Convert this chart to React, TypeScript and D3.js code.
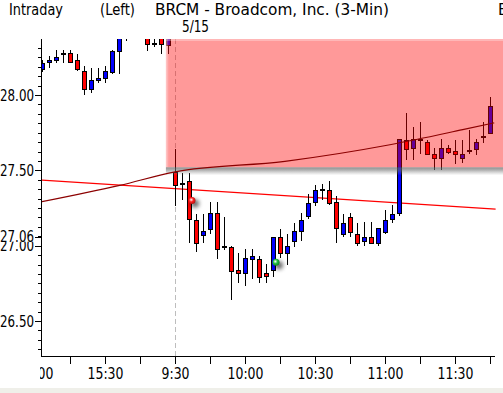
import React from 'react';
import * as d3 from 'd3';

const W = 503;
const H = 393;
const plot = { left: 41, right: 495, top: 39, bottom: 356 };

// bar index: 0 = 9:30 on 5/15 (3-min bars), negatives = previous session
const barIdx = d3.range(-19, 46);

const opens = [
  28.17, 28.22, 28.23, 28.27, 28.28, 28.23, 28.16, 28.04, 28.10, 28.11, 28.15, 28.29, 28.41, 28.45, 28.47, 28.40, 28.34, 28.38, 28.33,
  27.49, 27.41, 27.43, 27.17, 27.07, 27.11, 27.22, 26.99, 26.99, 26.84, 26.82, 26.91, 26.91, 26.82, 26.84, 27.06, 26.95, 27.03, 27.10, 27.20,
  27.29, 27.37, 27.37, 27.29, 27.08, 27.19, 27.08, 27.03, 27.06, 27.02, 27.09, 27.18, 27.22, 27.70, 27.65, 27.71, 27.69, 27.61, 27.58, 27.65,
  27.63, 27.58, 27.63, 27.64, 27.73, 27.75,
];
const highs = [
  28.23, 28.26, 28.30, 28.30, 28.30, 28.27, 28.19, 28.18, 28.18, 28.19, 28.30, 28.42, 28.48, 28.50, 28.49, 28.42, 28.38, 28.39, 28.40,
  27.64, 27.48, 27.48, 27.21, 27.21, 27.29, 27.29, 27.19, 27.00, 26.95, 26.98, 26.98, 26.93, 26.88, 27.06, 27.11, 27.08, 27.15, 27.22, 27.34,
  27.40, 27.41, 27.43, 27.33, 27.21, 27.22, 27.15, 27.16, 27.16, 27.12, 27.24, 27.27, 27.71, 27.88, 27.79, 27.82, 27.70, 27.65, 27.71, 27.67,
  27.70, 27.70, 27.77, 27.71, 27.82, 27.99,
];
const lows = [
  28.15, 28.18, 28.21, 28.21, 28.21, 28.16, 28.00, 28.01, 28.08, 28.08, 28.14, 28.14, 28.36, 28.40, 28.40, 28.29, 28.32, 28.27, 28.27,
  27.26, 27.30, 27.02, 26.96, 27.02, 27.08, 26.91, 26.97, 26.64, 26.75, 26.73, 26.78, 26.75, 26.75, 26.79, 26.92, 26.87, 26.99, 27.03, 27.18,
  27.26, 27.30, 27.27, 27.02, 27.06, 27.06, 27.00, 27.00, 27.01, 27.00, 27.08, 27.15, 27.20, 27.57, 27.57, 27.61, 27.60, 27.50, 27.50, 27.61,
  27.54, 27.55, 27.61, 27.60, 27.68, 27.74,
];
const closes = [
  28.21, 28.23, 28.25, 28.28, 28.22, 28.17, 28.04, 28.10, 28.11, 28.16, 28.29, 28.40, 28.45, 28.47, 28.42, 28.34, 28.34, 28.34, 28.38,
  27.40, 27.41, 27.18, 27.02, 27.10, 27.22, 26.98, 27.00, 26.83, 26.82, 26.92, 26.93, 26.79, 26.80, 27.06, 26.95, 27.00, 27.10, 27.17, 27.28,
  27.37, 27.37, 27.28, 27.12, 27.15, 27.09, 27.02, 27.06, 27.02, 27.12, 27.17, 27.21, 27.71, 27.64, 27.71, 27.70, 27.61, 27.58, 27.65, 27.62,
  27.61, 27.61, 27.63, 27.69, 27.72, 27.93,
];

// time axis
const timeTickIdx = [-20, -10, 0, 10, 20, 30, 40];
const timeTickLabels = ['15:00', '15:30', '9:30', '10:00', '10:30', '11:00', '11:30'];
const timeMinorIdx = [-15, -5, 5, 15, 25, 35, 45];

// price axis
const priceTicks = [26.5, 27.0, 27.5, 28.0];
const priceTickLabels = ['26.50', '27.00', '27.50', '28.00'];
const lastPrice = 27.06;

// studies
const trendIdx = [-19.2, 45.8];
const trendVal = [27.436, 27.243];
const curveIdx = [-19.2, -7.9, 0, 15.7, 30.7, 41.1, 45.6];
const curveVal = [27.29, 27.40, 27.49, 27.56, 27.67, 27.77, 27.815];

// resistance zone
const zoneStartIdx = -1.3;
const zoneLow = 27.52;

// trade markers
const markerIdx = [2.43, 14.43];
const markerVal = [27.3, 26.89];
const markerColor = ['#ff2020', '#20c040'];

export default function App() {
  const x = d3.scaleLinear().domain([-19, 45]).range([42, 490]);
  const y = d3.scaleLinear().domain([26.5, 28]).range([321, 95]);

  const minor = d3
    .range(0, 40)
    .map(k => 26.25 + k * 0.0625)
    .filter(v => y(v) >= plot.top && y(v) <= plot.bottom && Math.abs(v * 2 - Math.round(v * 2)) > 1e-6);

  const trendLine = d3
    .line<number>()
    .x(i => x(trendIdx[i]))
    .y(i => y(trendVal[i]));
  const curveLine = d3
    .line<number>()
    .x(i => x(curveIdx[i]))
    .y(i => y(curveVal[i]))
    .curve(d3.curveMonotoneX);

  const zoneX = x(zoneStartIdx);
  const zoneY = y(zoneLow);
  const sepX = Math.round(x(0)) + 0.5;

  return (
    <svg
      width={W}
      height={H}
      style={{ position: 'absolute', left: 0, top: 0, background: '#fff' }}
      fontFamily="'DejaVu Sans', sans-serif"
      fontSize={15}
    >
      <defs>
        <clipPath id="plotClip">
          <rect x={plot.left + 1} y={plot.top} width={plot.right - plot.left} height={plot.bottom - plot.top} />
        </clipPath>
        <clipPath id="labelClip">
          <rect x={plot.left - 1} y={plot.bottom} width={W} height={H - plot.bottom} />
        </clipPath>
        <linearGradient id="zoneShadow" x1="0" y1="0" x2="0" y2="1">
          <stop offset="0" stopColor="#606060" stopOpacity={0.7} />
          <stop offset="0.35" stopColor="#707070" stopOpacity={0.55} />
          <stop offset="1" stopColor="#909090" stopOpacity={0} />
        </linearGradient>
        <linearGradient id="zoneLeft" x1="0" y1="0" x2="1" y2="0">
          <stop offset="0" stopColor="#ffffff" stopOpacity={0.5} />
          <stop offset="1" stopColor="#ffffff" stopOpacity={0} />
        </linearGradient>
        {markerColor.map((c, i) => (
          <radialGradient key={i} id={`mk${i}`} cx="0.4" cy="0.4" r="0.6">
            <stop offset="0" stopColor="#ffffff" />
            <stop offset="0.5" stopColor={c} />
            <stop offset="1" stopColor={d3.color(c)!.darker(1).toString()} />
          </radialGradient>
        ))}
        <filter id="blur" x="-1" y="-1" width="3" height="3">
          <feGaussianBlur stdDeviation="2" />
        </filter>
      </defs>

      {/* title */}
      <text x={9} y={15} textLength={54} lengthAdjust="spacingAndGlyphs">Intraday</text>
      <text x={100} y={15} textLength={35} lengthAdjust="spacingAndGlyphs">(Left)</text>
      <text x={155} y={15} textLength={234} lengthAdjust="spacingAndGlyphs">BRCM - Broadcom, Inc.  (3-Min)</text>
      <text x={182} y={32} textLength={27} lengthAdjust="spacingAndGlyphs">5/15</text>
      <text x={498} y={15}>B</text>

      {/* session separator */}
      <line x1={sepX} x2={sepX} y1={plot.top} y2={plot.bottom} stroke="#bdbdbd" strokeDasharray="5,3" />

      <g clipPath="url(#plotClip)">
        <path d={trendLine([0, 1]) || ''} fill="none" stroke="#ff0000" strokeWidth={1.2} />

        {barIdx.map((b, k) => {
          const cx = Math.round(x(b));
          const o = opens[k];
          const c = closes[k];
          const yo = Math.round(y(o));
          const yc = Math.round(y(c));
          const top = Math.min(yo, yc);
          const h = Math.abs(yo - yc);
          return (
            <g key={b}>
              <line
                x1={cx + 0.5}
                x2={cx + 0.5}
                y1={Math.round(y(highs[k]))}
                y2={Math.round(y(lows[k]))}
                stroke="#000"
                strokeWidth={1}
              />
              {o === c ? (
                <rect x={cx - 2} y={top - 1} width={5} height={2} fill="#000" />
              ) : (
                <rect
                  x={cx - 1.5}
                  y={top + 0.5}
                  width={4}
                  height={Math.max(h, 1)}
                  fill={c > o ? '#0000ff' : '#ff0000'}
                  stroke="#000"
                  strokeWidth={1}
                />
              )}
            </g>
          );
        })}

        {markerIdx.map((m, i) => (
          <g key={i}>
            <circle cx={x(m) + 3} cy={y(markerVal[i]) + 3} r={4} fill="#000" opacity={0.6} filter="url(#blur)" />
            <circle cx={x(m)} cy={y(markerVal[i])} r={3.5} fill={`url(#mk${i})`} />
          </g>
        ))}
      </g>

      {/* resistance zone */}
      <rect x={zoneX} y={plot.top} width={W - zoneX} height={zoneY - plot.top} fill="#ff0000" fillOpacity={0.4} />
      <rect x={zoneX} y={plot.top} width={3} height={zoneY - plot.top} fill="url(#zoneLeft)" />
      <rect x={zoneX} y={plot.top} width={W - zoneX} height={2} fill="#ffffff" opacity={0.3} />
      <rect x={zoneX} y={zoneY} width={W - zoneX} height={8} fill="url(#zoneShadow)" />

      <g clipPath="url(#plotClip)">
        <path d={curveLine(d3.range(curveIdx.length)) || ''} fill="none" stroke="#8c0000" strokeWidth={1.2} />
      </g>

      {/* price axis */}
      <line x1={plot.left + 0.5} x2={plot.left + 0.5} y1={plot.top} y2={plot.bottom} stroke="#000" />
      {minor.map(v => (
        <line key={v} x1={plot.left - 3} x2={plot.left} y1={Math.round(y(v)) + 0.5} y2={Math.round(y(v)) + 0.5} stroke="#000" />
      ))}
      {priceTicks.map((v, i) => (
        <g key={v}>
          <line x1={plot.left - 6} x2={plot.left} y1={Math.round(y(v)) + 0.5} y2={Math.round(y(v)) + 0.5} stroke="#000" />
          <text x={34} y={y(v) + 5.5} textAnchor="end" textLength={34} lengthAdjust="spacingAndGlyphs">
            {priceTickLabels[i]}
          </text>
        </g>
      ))}
      <rect x={0} y={y(lastPrice) - 9} width={35} height={14} fill="#fff" />
      <line x1={plot.left - 6} x2={plot.left} y1={Math.round(y(lastPrice)) + 0.5} y2={Math.round(y(lastPrice)) + 0.5} stroke="#000" />
      <text x={34} y={y(lastPrice) + 5.5} textAnchor="end" textLength={34} lengthAdjust="spacingAndGlyphs">
        {lastPrice.toFixed(2)}
      </text>

      {/* time axis */}
      <line x1={plot.left} x2={plot.right} y1={plot.bottom + 0.5} y2={plot.bottom + 0.5} stroke="#000" />
      {timeMinorIdx.concat(timeTickIdx).filter(t => x(t) > plot.left).map(t => (
        <line key={t} x1={Math.round(x(t)) + 0.5} x2={Math.round(x(t)) + 0.5} y1={plot.bottom} y2={plot.bottom + 8} stroke="#000" />
      ))}
      <g clipPath="url(#labelClip)">
        {timeTickIdx.map((t, i) => (
          <text
            key={t}
            x={x(t) + 0.5 - (timeTickLabels[i].length === 5 ? 18 : 14)}
            y={379}
            textLength={timeTickLabels[i].length === 5 ? 36 : 28}
            lengthAdjust="spacingAndGlyphs"
          >
            {timeTickLabels[i]}
          </text>
        ))}
      </g>

      <rect x={0} y={388} width={W} height={H - 388} fill="#efefe9" />
    </svg>
  );
}
